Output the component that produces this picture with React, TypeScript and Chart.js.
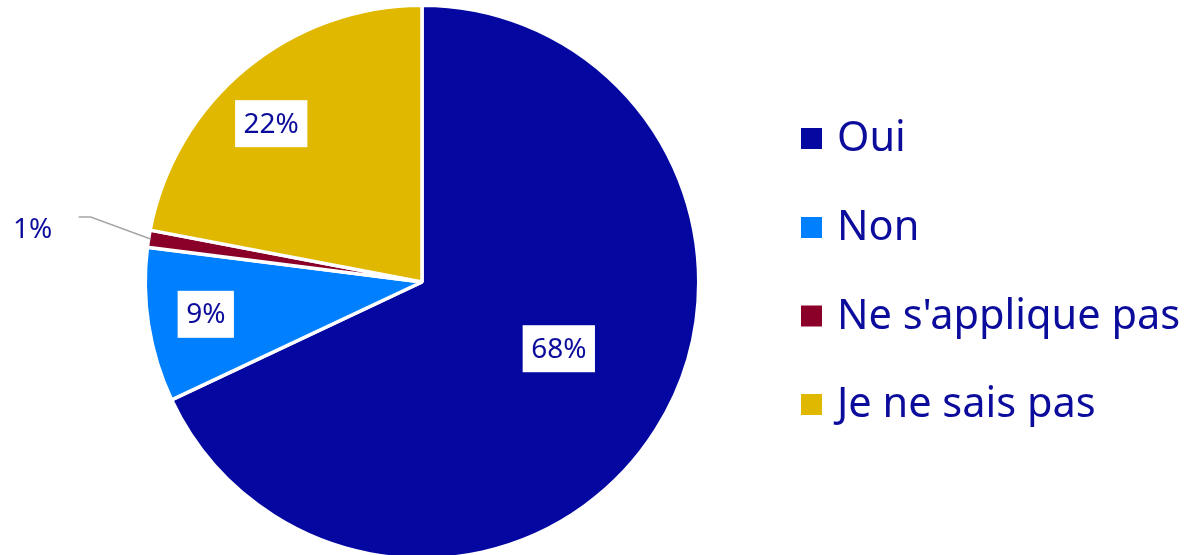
import React, { useEffect, useRef } from 'react';
import { Chart, registerables } from 'chart.js';

Chart.register(...registerables);

const categories = ['Oui', 'Non', "Ne s'applique pas", 'Je ne sais pas'];
const values = [68, 9, 1, 22];
const colors = ['#0508A0', '#0080FF', '#8A0029', '#E1B800'];
const labelTexts = values.map((v) => `${v}%`);

const TEXT_COLOR = '#0C0C9C';
const LABEL_FONT = '28px "Noto Sans", sans-serif';
const LEGEND_FONT = '41.5px "Noto Sans", sans-serif';
// label placement: fraction of radius, angle shift (deg), outside flag
const LABEL_RADIUS = [0.55, 0.79, 0, 0.79];
const LABEL_SHIFT = [-6.4, 0.5, 0, -4];
const LABEL_OUTSIDE = [false, false, true, false];

const sliceLabelPlugin = {
  id: 'sliceLabels',
  afterDatasetsDraw(chart: any) {
    const ctx = chart.ctx;
    const meta = chart.getDatasetMeta(0);
    ctx.save();
    ctx.font = LABEL_FONT;
    ctx.textAlign = 'center';
    ctx.textBaseline = 'middle';
    meta.data.forEach((arc: any, i: number) => {
      const p = arc.getProps(['x', 'y', 'startAngle', 'endAngle', 'outerRadius'], true);
      const mid = (p.startAngle + p.endAngle) / 2;
      const text = labelTexts[i];
      if (LABEL_OUTSIDE[i]) {
        const ex = p.x + (p.outerRadius - 2) * Math.cos(mid);
        const ey = p.y + (p.outerRadius - 2) * Math.sin(mid);
        const bx = ex - 60;
        const by = ey - 22;
        ctx.strokeStyle = '#A6A6A6';
        ctx.lineWidth = 1.5;
        ctx.beginPath();
        ctx.moveTo(ex, ey);
        ctx.lineTo(bx, by);
        ctx.lineTo(bx - 12, by);
        ctx.stroke();
        ctx.fillStyle = TEXT_COLOR;
        ctx.fillText(text, ex - 118, ey - 9);
      } else {
        const a = mid + (LABEL_SHIFT[i] * Math.PI) / 180;
        const r = p.outerRadius * LABEL_RADIUS[i];
        const cx = p.x + r * Math.cos(a);
        const cy = p.y + r * Math.sin(a);
        const w = ctx.measureText(text).width + 17;
        const h = 47;
        ctx.fillStyle = '#FFFFFF';
        ctx.fillRect(cx - w / 2, cy - h / 2, w, h);
        ctx.fillStyle = TEXT_COLOR;
        ctx.fillText(text, cx, cy + 1);
      }
    });
    ctx.restore();
  },
};

const LEGEND_X = 801;
const LEGEND_BOX = 21;
const LEGEND_TEXT_X = 837;
const LEGEND_Y = [138.5, 227.5, 316, 404.5];

const legendPlugin = {
  id: 'sideLegend',
  afterDraw(chart: any) {
    const ctx = chart.ctx;
    const labels: string[] = chart.data.labels;
    const bg: string[] = chart.data.datasets[0].backgroundColor;
    ctx.save();
    ctx.font = LEGEND_FONT;
    ctx.textAlign = 'left';
    ctx.textBaseline = 'alphabetic';
    labels.forEach((lab, i) => {
      const cy = LEGEND_Y[i];
      ctx.fillStyle = bg[i];
      ctx.fillRect(LEGEND_X, cy - LEGEND_BOX / 2, LEGEND_BOX, LEGEND_BOX);
      ctx.fillStyle = TEXT_COLOR;
      ctx.fillText(lab, LEGEND_TEXT_X, cy + 12.5);
    });
    ctx.restore();
  },
};

export default function App() {
  const ref = useRef<HTMLCanvasElement | null>(null);
  useEffect(() => {
    if (!ref.current) return;
    const chart = new Chart(ref.current, {
      type: 'pie',
      data: {
        labels: categories,
        datasets: [
          {
            data: values,
            backgroundColor: colors,
            borderColor: '#FFFFFF',
            borderWidth: 3.5,
          },
        ],
      },
      options: {
        animation: false,
        responsive: true,
        maintainAspectRatio: false,
        layout: { padding: { left: 143.5, right: 485.5, top: 3.5, bottom: 9.5 } },
        plugins: {
          legend: { display: false },
          tooltip: { enabled: false },
        },
      },
      plugins: [sliceLabelPlugin, legendPlugin],
    });
    return () => chart.destroy();
  }, []);
  return (
    <div
      style={{
        position: 'absolute',
        left: 0,
        top: 0,
        width: 1186,
        height: 555,
        overflow: 'hidden',
        background: '#FFFFFF',
      }}
    >
      <div style={{ position: 'absolute', left: 0, top: 0, width: 1186, height: 570 }}>
        <canvas ref={ref} />
      </div>
    </div>
  );
}
